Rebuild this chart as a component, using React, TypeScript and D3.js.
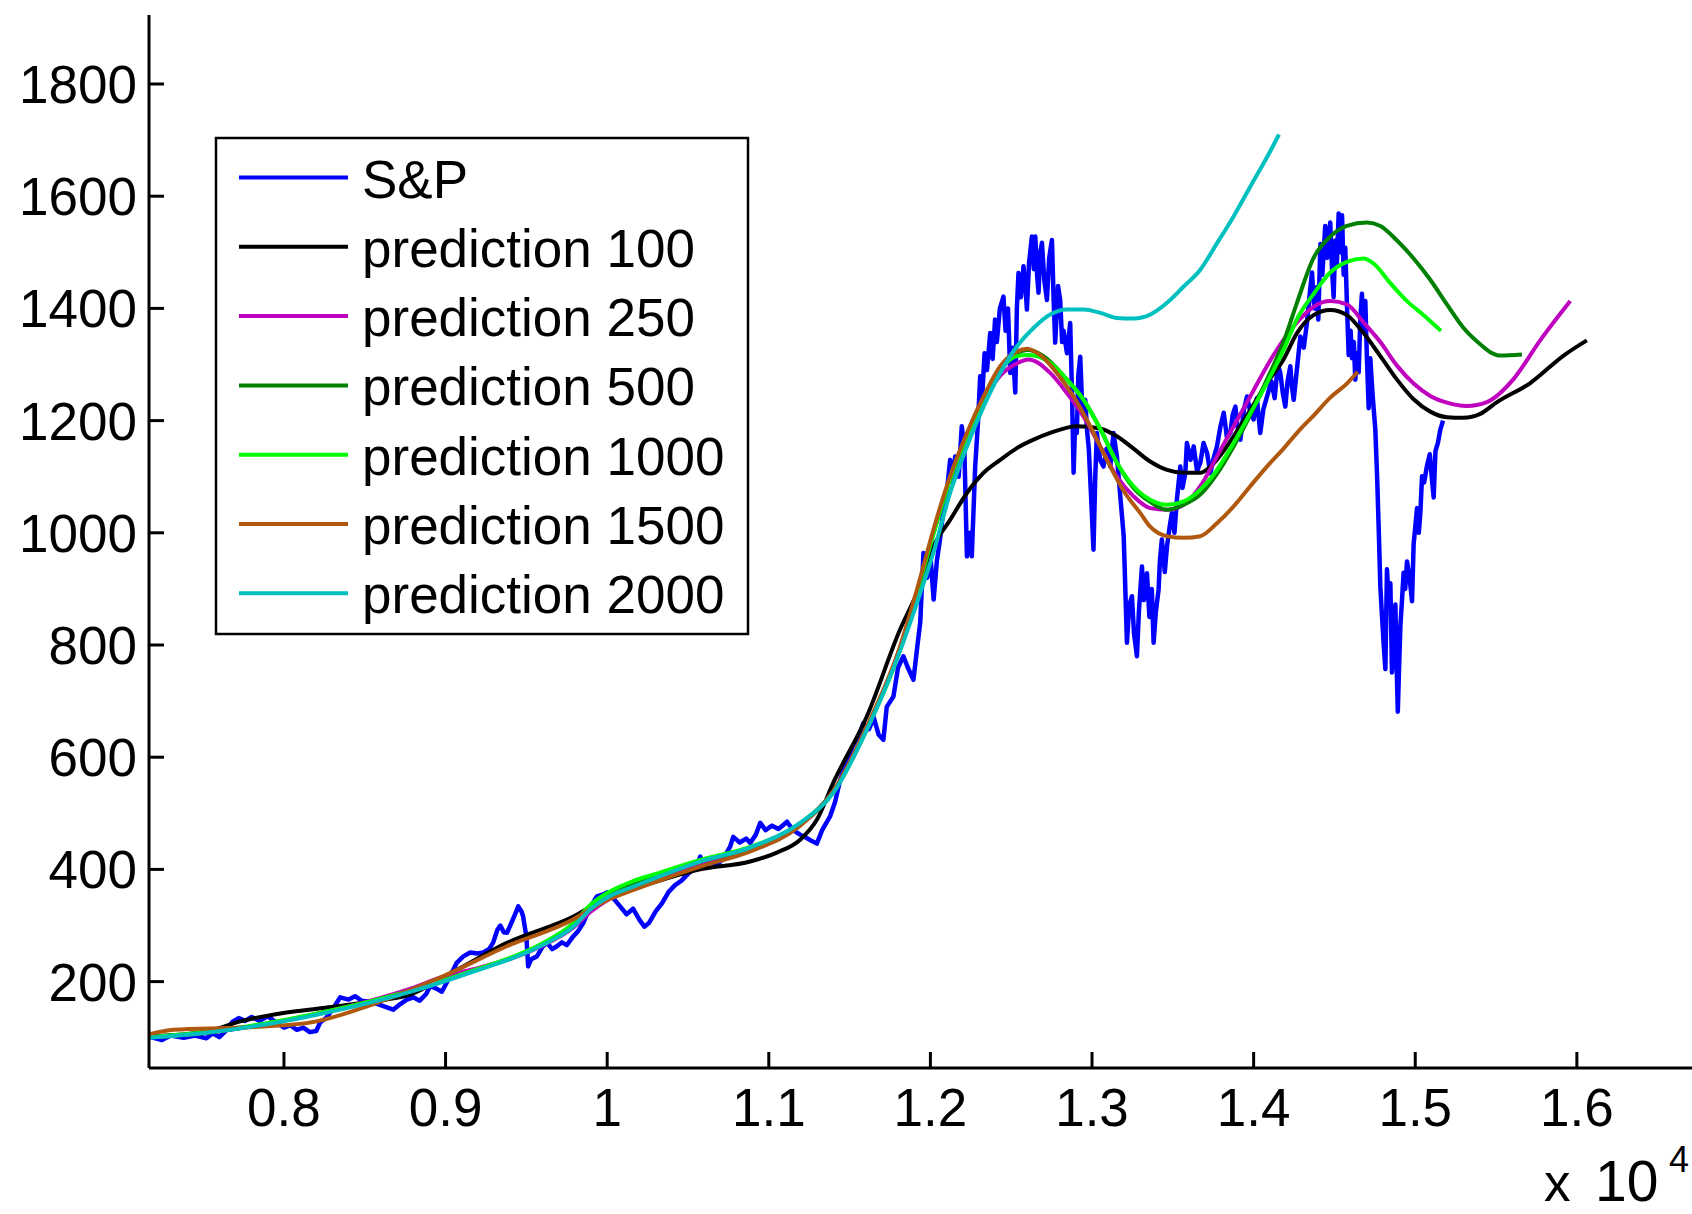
import React from 'react';
import * as d3 from 'd3';

type Pt = [number, number];

// ---------- data ----------
const sp500: Pt[] = [
  [7165,102],[7245,96],[7300,104],[7380,100],[7450,104],[7520,99],[7560,108],[7600,101],[7640,112],[7680,128],
  [7720,135],[7760,130],[7800,137],[7850,130],[7900,138],[7950,128],[8000,118],[8040,122],[8080,114],[8120,118],
  [8160,110],[8200,112],[8224,127],[8260,135],[8300,150],[8348,172],[8400,168],[8440,174],[8480,166],[8533,164],
  [8580,160],[8637,154],[8676,150],[8720,160],[8760,168],[8800,172],[8840,166],[8880,178],[8905,192],[8940,188],
  [8977,182],[9020,205],[9070,234],[9110,245],[9152,252],[9200,250],[9233,252],[9270,258],[9295,270],[9320,292],
  [9339,300],[9360,288],[9380,287],[9400,300],[9430,320],[9450,334],[9470,325],[9480,316],[9500,280],[9511,227],
  [9530,240],[9565,245],[9600,262],[9627,269],[9660,258],[9689,263],[9720,270],[9750,265],[9791,281],[9820,290],
  [9853,305],[9890,330],[9936,352],[9970,355],[9998,359],[10040,348],[10080,334],[10120,320],[10160,330],[10200,310],
  [10230,298],[10260,305],[10300,325],[10340,340],[10380,360],[10420,372],[10460,380],[10500,392],[10533,400],[10560,410],
  [10576,423],[10600,405],[10640,412],[10680,408],[10720,420],[10760,440],[10780,458],[10820,448],[10860,455],[10885,447],
  [10920,462],[10947,483],[10980,470],[11020,478],[11060,472],[11113,485],[11150,470],[11194,462],[11240,455],[11270,450],
  [11297,446],[11330,470],[11380,495],[11410,520],[11442,560],[11480,590],[11520,620],[11560,640],[11585,661],[11620,650],
  [11650,670],[11680,640],[11709,631],[11730,690],[11771,708],[11800,760],[11833,780],[11860,760],[11895,738],[11920,800],
  [11937,840],[11957,964],[11980,920],[12000,960],[12020,881],[12040,950],[12060,990],[12080,1040],[12101,1071],[12122,1130],
  [12140,1090],[12153,1136],[12175,1100],[12194,1190],[12210,1150],[12226,958],[12245,1000],[12256,958],[12277,1118],[12295,1200],
  [12308,1279],[12320,1240],[12335,1320],[12350,1290],[12370,1356],[12385,1310],[12400,1380],[12411,1340],[12430,1400],[12452,1421],
  [12465,1360],[12480,1400],[12494,1285],[12510,1330],[12525,1250],[12535,1400],[12545,1463],[12560,1420],[12576,1475],[12590,1430],
  [12597,1398],[12610,1480],[12628,1528],[12640,1470],[12649,1528],[12660,1460],[12669,1428],[12680,1500],[12690,1517],[12705,1450],
  [12721,1415],[12735,1490],[12752,1522],[12762,1420],[12772,1339],[12790,1440],[12803,1415],[12815,1340],[12824,1360],[12845,1320],
  [12865,1374],[12876,1250],[12886,1107],[12896,1200],[12906,1178],[12915,1280],[12927,1314],[12940,1220],[12958,1237],[12970,1180],
  [12980,1150],[12995,1060],[13009,970],[13020,1100],[13030,1178],[13050,1130],[13071,1118],[13090,1150],[13113,1118],[13133,1178],
  [13154,1136],[13175,1065],[13196,994],[13206,900],[13216,804],[13230,870],[13247,887],[13260,820],[13278,780],[13290,860],
  [13309,940],[13320,880],[13340,928],[13355,850],[13370,900],[13381,804],[13395,860],[13412,899],[13420,950],[13432,988],
  [13450,930],[13464,976],[13480,1010],[13494,1035],[13510,1000],[13525,1059],[13546,1118],[13560,1080],[13577,1106],[13587,1160],
  [13610,1130],[13629,1154],[13650,1110],[13670,1125],[13690,1160],[13712,1142],[13732,1106],[13750,1130],[13773,1154],[13795,1190],
  [13815,1214],[13835,1170],[13856,1178],[13870,1210],[13887,1225],[13900,1190],[13918,1166],[13940,1220],[13959,1243],[13980,1215],
  [14000,1202],[14020,1240],[14041,1178],[14060,1220],[14083,1243],[14110,1270],[14130,1240],[14150,1300],[14165,1285],[14180,1250],
  [14196,1225],[14210,1270],[14227,1297],[14237,1260],[14248,1237],[14268,1292],[14289,1350],[14310,1330],[14330,1375],[14345,1420],
  [14361,1464],[14375,1400],[14392,1438],[14400,1380],[14413,1515],[14425,1460],[14443,1547],[14455,1490],[14474,1553],[14485,1470],
  [14495,1420],[14505,1521],[14515,1480],[14526,1569],[14537,1500],[14547,1566],[14557,1460],[14567,1508],[14578,1400],[14588,1317],
  [14600,1360],[14609,1311],[14620,1340],[14629,1273],[14640,1320],[14650,1286],[14660,1380],[14670,1426],[14680,1360],[14691,1413],
  [14701,1311],[14712,1222],[14722,1311],[14735,1250],[14753,1184],[14764,1100],[14774,1006],[14784,904],[14794,853],[14805,800],
  [14815,757],[14825,935],[14835,880],[14846,910],[14856,751],[14866,820],[14877,872],[14885,760],[14892,681],[14900,760],
  [14908,834],[14918,880],[14928,929],[14938,900],[14949,949],[14965,920],[14980,878],[14990,980],[15000,1010],[15011,1044],
  [15022,1000],[15032,1038],[15042,1101],[15055,1090],[15073,1120],[15090,1140],[15105,1090],[15114,1063],[15125,1146],[15140,1160],
  [15155,1184],[15172,1200],
];

const pred100: Pt[] = [
  [7165,102],[7523,111],[7729,129],[7997,144],[8244,153],[8553,165],[8760,175],[9070,221],[9379,269],[9791,316],
  [10000,350],[10300,378],[10576,400],[10885,414],[11050,430],[11194,453],[11300,490],[11400,555],[11607,673],[11813,828],
  [11917,893],[12019,976],[12122,1023],[12226,1071],[12329,1107],[12432,1130],[12535,1151],[12638,1166],[12741,1178],[12906,1190],
  [13050,1186],[13154,1172],[13257,1150],[13360,1127],[13464,1112],[13567,1107],[13670,1107],[13732,1118],[13876,1172],[13979,1219],
  [14082,1267],[14185,1309],[14268,1356],[14371,1388],[14474,1397],[14577,1388],[14680,1356],[14784,1315],[14887,1273],[14990,1238],
  [15093,1216],[15196,1206],[15299,1205],[15402,1212],[15506,1233],[15712,1267],[15918,1316],[16062,1343],
];

const pred250: Pt[] = [
  [7165,101],[7523,109],[7935,127],[8348,152],[8760,185],[9000,210],[9173,222],[9585,262],[9790,296],[9900,325],
  [10000,345],[10150,365],[10300,380],[10576,408],[10885,435],[11194,480],[11400,540],[11607,652],[11813,795],[11917,895],
  [12019,1000],[12122,1095],[12226,1170],[12329,1235],[12432,1280],[12535,1302],[12607,1309],[12741,1285],[12845,1249],[12948,1207],
  [13051,1154],[13154,1100],[13257,1065],[13360,1044],[13464,1041],[13567,1050],[13670,1083],[13773,1136],[13876,1190],[13979,1243],
  [14082,1297],[14185,1344],[14268,1375],[14371,1403],[14474,1413],[14577,1407],[14680,1375],[14784,1340],[14887,1298],[14990,1266],
  [15093,1244],[15196,1232],[15319,1226],[15443,1233],[15608,1274],[15773,1343],[15959,1413],
];

const pred500: Pt[] = [
  [7165,101],[7523,109],[7935,127],[8348,151],[8760,181],[9173,219],[9585,264],[9790,300],[9900,332],[10000,352],
  [10150,372],[10300,388],[10576,414],[10885,438],[11194,481],[11400,539],[11607,651],[11813,795],[11917,895],[12019,1000],
  [12122,1097],[12226,1175],[12329,1240],[12432,1292],[12535,1320],[12600,1326],[12700,1315],[12845,1273],[12948,1237],[13051,1185],
  [13154,1125],[13257,1080],[13360,1055],[13464,1041],[13567,1050],[13670,1068],[13773,1105],[13876,1154],[13979,1210],[14082,1273],
  [14185,1340],[14268,1410],[14371,1490],[14474,1528],[14577,1547],[14701,1553],[14784,1547],[14887,1521],[14990,1489],[15093,1451],
  [15196,1407],[15299,1365],[15402,1336],[15464,1322],[15526,1316],[15660,1318],
];

const pred1000: Pt[] = [
  [7165,101],[7523,110],[7935,128],[8348,152],[8760,182],[9173,220],[9585,266],[9790,304],[9900,338],[10000,358],
  [10150,378],[10300,392],[10576,417],[10885,440],[11194,482],[11400,538],[11607,650],[11813,792],[11917,893],[12019,998],
  [12122,1095],[12226,1172],[12329,1238],[12432,1290],[12535,1315],[12607,1317],[12741,1303],[12845,1273],[12948,1237],[13051,1185],
  [13154,1125],[13257,1083],[13360,1059],[13464,1050],[13567,1056],[13670,1077],[13773,1112],[13876,1160],[13979,1213],[14082,1267],
  [14185,1326],[14268,1381],[14371,1426],[14474,1464],[14577,1483],[14680,1489],[14742,1480],[14846,1445],[14949,1413],[15052,1388],
  [15159,1360],
];

const pred1500: Pt[] = [
  [7165,106],[7316,114],[7729,118],[8142,126],[8553,160],[8966,207],[9379,263],[9791,311],[9900,330],[10000,345],
  [10150,362],[10300,378],[10576,405],[10885,432],[11194,478],[11400,540],[11607,655],[11813,798],[11917,899],[12019,1006],
  [12122,1101],[12226,1178],[12329,1243],[12432,1297],[12535,1323],[12597,1328],[12679,1317],[12782,1285],[12886,1243],[12989,1190],
  [13092,1130],[13195,1075],[13299,1035],[13360,1011],[13464,994],[13567,991],[13670,994],[13773,1017],[13876,1047],[13979,1083],
  [14082,1118],[14185,1150],[14289,1185],[14371,1209],[14474,1241],[14577,1266],[14644,1287],
];

const pred2000: Pt[] = [
  [7165,100],[7523,109],[7935,126],[8348,150],[8760,180],[9173,218],[9585,263],[9790,298],[9900,330],[10000,350],
  [10150,368],[10300,385],[10576,414],[10885,439],[11194,483],[11400,537],[11607,649],[11813,790],[11917,875],[12019,965],
  [12122,1071],[12226,1154],[12329,1225],[12432,1285],[12535,1332],[12638,1365],[12741,1389],[12845,1398],[12948,1398],[13051,1392],
  [13154,1383],[13257,1382],[13360,1389],[13464,1410],[13567,1439],[13670,1469],[13773,1516],[13876,1564],[13979,1617],[14080,1668],
  [14157,1710],
];

const seriesNames = ['S&P','prediction 100','prediction 250','prediction 500','prediction 1000','prediction 1500','prediction 2000'];
const seriesColors = ['#0000FF','#000000','#BF00BF','#008000','#00FF00','#B0580E','#00BFBF'];
const seriesData = [sp500, pred100, pred250, pred500, pred1000, pred1500, pred2000];

const yTicks = [200, 400, 600, 800, 1000, 1200, 1400, 1600, 1800];
const xTicks = [8000, 9000, 10000, 11000, 12000, 13000, 14000, 15000, 16000];
const xTickLabels = ['0.8', '0.9', '1', '1.1', '1.2', '1.3', '1.4', '1.5', '1.6'];

// ---------- layout ----------
const W = 1692, H = 1214;
const left = 149, right = 1690, top = 15, bottom = 1068;
const FONT = '"Liberation Sans", Arial, Helvetica, sans-serif';

export default function App() {
  const x = d3.scaleLinear().domain([7165, 16700]).range([left, right]);
  const y = d3.scaleLinear().domain([46, 1923]).range([bottom, top]);

  const smooth = d3.line<Pt>().x(d => x(d[0])).y(d => y(d[1])).curve(d3.curveMonotoneX);
  const jagged = d3.line<Pt>().x(d => x(d[0])).y(d => y(d[1])).curve(d3.curveLinear);

  const legX = 216, legY = 138, legW = 532, legH = 496;
  const rowY0 = 177.5, rowStep = 69.3;

  return (
    <svg width={W} height={H} style={{ position: 'absolute', left: 0, top: 0, background: '#fff' }}
      xmlns="http://www.w3.org/2000/svg">
      <rect x={0} y={0} width={W} height={H} fill="#fff" />
      {/* series */}
      {seriesData.map((d, i) => (
        <path key={i} d={(i === 0 ? jagged(d) : smooth(d)) || ''} fill="none"
          stroke={seriesColors[i]} strokeWidth={i === 0 ? 4.5 : 4} strokeLinejoin="round" strokeLinecap="butt" />
      ))}

      {/* axes */}
      <line x1={left} y1={top} x2={left} y2={bottom} stroke="#000" strokeWidth={3} />
      <line x1={left} y1={bottom} x2={W} y2={bottom} stroke="#000" strokeWidth={3} />
      {yTicks.map(t => (
        <g key={'y' + t}>
          <line x1={left} x2={left + 15} y1={y(t)} y2={y(t)} stroke="#000" strokeWidth={3} />
          <text x={137} y={y(t) + 19} textAnchor="end" fontFamily={FONT} fontSize={53} fill="#000">{t}</text>
        </g>
      ))}
      {xTicks.map((t, i) => (
        <g key={'x' + t}>
          <line x1={x(t)} x2={x(t)} y1={bottom} y2={bottom - 16} stroke="#000" strokeWidth={3} />
          <text x={x(t)} y={1126} textAnchor="middle" fontFamily={FONT} fontSize={53} fill="#000">{xTickLabels[i]}</text>
        </g>
      ))}
      <text x={1544} y={1201} fontFamily={FONT} fontSize={53} fill="#000">x</text>
      <text x={1595} y={1201} fontFamily={FONT} fontSize={57} fill="#000">10</text>
      <text x={1669} y={1172} fontFamily={FONT} fontSize={36} fill="#000">4</text>

      {/* legend */}
      <rect x={legX} y={legY} width={legW} height={legH} fill="#fff" stroke="#000" strokeWidth={2.5} />
      {seriesNames.map((name, i) => {
        const ry = rowY0 + i * rowStep;
        return (
          <g key={name}>
            <line x1={239} x2={348} y1={ry} y2={ry} stroke={seriesColors[i]} strokeWidth={4} />
            <text x={362} y={ry + 20} fontFamily={FONT} fontSize={53} fill="#000">{name}</text>
          </g>
        );
      })}
    </svg>
  );
}
